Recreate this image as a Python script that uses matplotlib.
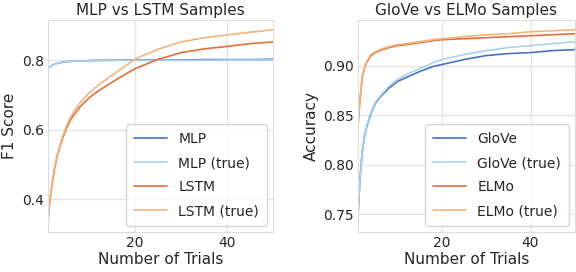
import matplotlib
matplotlib.use("Agg")
import matplotlib.pyplot as plt
import seaborn as sns

sns.set_style("whitegrid")
plt.rcParams['font.family'] = ['DejaVu Sans']

trials = [1, 1.5, 2, 2.5, 3, 4, 5, 6, 8, 10, 12, 15, 18, 20, 25, 30, 35, 40, 45, 50]

# left panel: MLP vs LSTM (F1 score)
mlp = [0.776, 0.782, 0.786, 0.789, 0.791, 0.794, 0.796, 0.797, 0.798, 0.799, 0.800, 0.800,
       0.801, 0.801, 0.801, 0.801, 0.802, 0.802, 0.802, 0.803]
mlp_true = [0.776, 0.782, 0.786, 0.789, 0.791, 0.794, 0.796, 0.797, 0.798, 0.799, 0.799, 0.800,
            0.800, 0.800, 0.800, 0.800, 0.800, 0.801, 0.801, 0.801]
lstm = [0.333, 0.400, 0.450, 0.490, 0.522, 0.568, 0.603, 0.630, 0.666, 0.692, 0.712, 0.737,
        0.761, 0.776, 0.803, 0.822, 0.833, 0.840, 0.848, 0.853]
lstm_true = [0.333, 0.402, 0.453, 0.493, 0.525, 0.573, 0.609, 0.638, 0.678, 0.706, 0.729, 0.757,
             0.785, 0.804, 0.832, 0.853, 0.865, 0.873, 0.881, 0.888]

# right panel: GloVe vs ELMo (accuracy)
glove = [0.742, 0.785, 0.812, 0.828, 0.838, 0.852, 0.862, 0.868, 0.877, 0.884, 0.888, 0.894,
         0.899, 0.901, 0.906, 0.910, 0.912, 0.913, 0.915, 0.916]
glove_true = [0.742, 0.785, 0.812, 0.828, 0.839, 0.853, 0.863, 0.869, 0.879, 0.886, 0.891, 0.897,
              0.903, 0.906, 0.911, 0.915, 0.918, 0.920, 0.922, 0.924]
elmo = [0.835, 0.864, 0.887, 0.897, 0.903, 0.910, 0.913, 0.915, 0.918, 0.920, 0.921, 0.923,
        0.925, 0.926, 0.927, 0.928, 0.929, 0.930, 0.931, 0.932]
elmo_true = [0.835, 0.865, 0.888, 0.898, 0.904, 0.911, 0.914, 0.916, 0.919, 0.921, 0.922, 0.924,
             0.926, 0.927, 0.929, 0.931, 0.932, 0.934, 0.935, 0.936]

colors = {'dark_blue': '#4a72bd', 'light_blue': '#a9d3ea',
          'dark_orange': '#e1703d', 'light_orange': '#f1b47f'}

fig = plt.figure(figsize=(5.76, 2.72), dpi=100)
ax1 = fig.add_axes([0.083, 0.147, 0.391, 0.779])
ax2 = fig.add_axes([0.621, 0.147, 0.377, 0.779])

panels = [
    (ax1, 'MLP vs LSTM Samples', 'F1 Score',
     [('MLP', mlp, 'dark_blue'), ('MLP (true)', mlp_true, 'light_blue'),
      ('LSTM', lstm, 'dark_orange'), ('LSTM (true)', lstm_true, 'light_orange')],
     [0.4, 0.6, 0.8], ['0.4', '0.6', '0.8']),
    (ax2, 'GloVe vs ELMo Samples', 'Accuracy',
     [('GloVe', glove, 'dark_blue'), ('GloVe (true)', glove_true, 'light_blue'),
      ('ELMo', elmo, 'dark_orange'), ('ELMo (true)', elmo_true, 'light_orange')],
     [0.75, 0.80, 0.85, 0.90], ['0.75', '0.80', '0.85', '0.90']),
]

for ax, title, ylabel, series, yticks, yticklabels in panels:
    for label, vals, c in series:
        ax.plot(trials, vals, color=colors[c], lw=1.2, label=label)
    ax.set_xlim(1, 50)
    ax.set_xticks([20, 40])
    ax.set_yticks(yticks)
    ax.set_yticklabels(yticklabels)
    ax.tick_params(labelsize=10, length=0, pad=3)
    ax.set_title(title, fontsize=11, pad=4)
    ax.set_xlabel('Number of Trials', fontsize=11, labelpad=1)
    ax.set_ylabel(ylabel, fontsize=11, labelpad=3)
    for s in ax.spines.values():
        s.set_color('#dddddd')
    ax.grid(color='#e3e3e3', lw=0.9)
    ax.legend(loc='lower right', fontsize=10, frameon=True, handlelength=2.4,
              borderpad=0.55, labelspacing=0.72, borderaxespad=0.45)

fig.savefig('out.png', dpi=100)
